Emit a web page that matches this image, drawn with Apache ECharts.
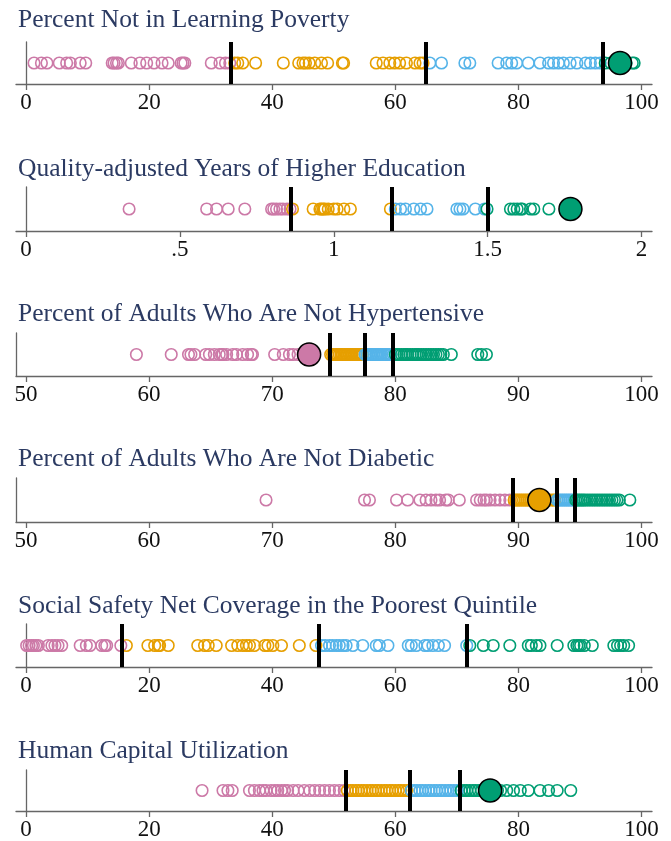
<!DOCTYPE html>
<html>
<head>
<meta charset="utf-8">
<script src="https://cdn.jsdelivr.net/npm/echarts@6/dist/echarts.min.js"></script>
<style>
html,body{margin:0;padding:0;background:#fff;}
#chart{width:671px;height:841px;}
</style>
</head>
<body>
<div id="chart"></div>
<script>
// ---- Data ----
const titles = [
  "Percent Not in Learning Poverty",
  "Quality-adjusted Years of Higher Education",
  "Percent of Adults Who Are Not Hypertensive",
  "Percent of Adults Who Are Not Diabetic",
  "Social Safety Net Coverage in the Poorest Quintile",
  "Human Capital Utilization"
];

// Panel 1: Learning poverty
const lp_q1 = [1.3, 2.5, 3.4, 5.4, 6.6, 7.2, 8.8, 9.7, 14.0, 14.3, 14.7, 15.0, 17.1, 18.5, 19.6, 20.8, 22.1, 23.1, 25.2, 25.5, 25.8, 30.1, 31.5, 32.4, 33.1];
const lp_q2 = [33.9, 34.4, 35.2, 37.3, 41.8, 44.3, 45.0, 45.4, 46.0, 46.9, 48.0, 49.0, 51.4, 51.6, 56.9, 58.0, 59.1, 59.9, 60.7, 61.8, 63.2, 64.0, 64.5];
const lp_q3 = [65.6, 67.5, 71.3, 72.1, 76.7, 78.1, 78.9, 79.7, 81.6, 83.5, 84.9, 85.7, 86.5, 87.3, 88.4, 89.5, 90.9, 91.7, 92.5, 93.3];
const lp_q4 = [94.1, 95.0, 97.5, 98.5, 98.8];
const lp_cut = [33.2, 64.9, 93.75];
const lp_hi = 96.5;

// Panel 2: Higher education
const he_q1 = [0.335, 0.587, 0.619, 0.657, 0.711, 0.798, 0.805, 0.814, 0.825, 0.835, 0.848, 0.858];
const he_q2 = [0.866, 0.933, 0.955, 0.960, 0.966, 0.971, 0.982, 1.0, 1.011, 1.033, 1.054, 1.184];
const he_q3 = [1.20, 1.217, 1.233, 1.26, 1.282, 1.303, 1.40, 1.41, 1.42, 1.46, 1.49];
const he_q4 = [1.498, 1.574, 1.585, 1.596, 1.607, 1.612, 1.639, 1.65, 1.699];
const he_cut = [0.863, 1.193, 1.496];
const he_hi = 1.769;

// Panel 3: Hypertension
const ht_q1 = [58.97, 61.8, 63.2, 63.4, 63.7, 64.6, 64.9, 65.3, 65.7, 65.9, 66.0, 66.3, 66.8, 67.1, 67.6, 68.0, 68.3, 68.4, 70.2, 70.9, 71.4, 71.7, 72.1, 72.5];
const ht_q2 = [74.75, 74.9, 75.0, 75.2, 75.3, 75.45, 75.6, 75.7, 75.85, 76.0, 76.1, 76.25, 76.4, 76.5, 76.65, 76.8, 76.9, 77.05, 77.2, 77.35];
const ht_q3 = [77.55, 77.7, 77.85, 78.0, 78.1, 78.25, 78.4, 78.5, 78.65, 78.8, 78.9, 79.05, 79.2, 79.35, 79.5, 79.65];
const ht_q4 = [80.0, 80.15, 80.3, 80.5, 80.7, 80.85, 81.0, 81.2, 81.4, 81.6, 81.75, 81.9, 82.1, 82.3, 82.5, 82.7, 82.9, 83.1, 83.3, 83.5, 83.7, 83.9, 84.55, 86.7, 87.0, 87.4];
const ht_cut = [74.65, 77.5, 79.8];
const ht_hi = 73.0;

// Panel 4: Diabetes
const db_q1 = [69.5, 77.5, 77.9, 80.1, 81.0, 82.0, 82.5, 82.9, 83.3, 83.6, 84.1, 84.3, 85.2, 86.6, 86.9, 87.2, 87.4, 87.7, 88.1, 88.5, 88.9, 89.3];
const db_q2 = [89.65, 89.8, 89.95, 90.1, 90.25, 90.4, 90.55, 90.7, 90.85, 91.0, 91.2, 91.4, 91.6, 91.8, 92.0, 92.2, 92.4, 92.6, 92.8, 92.95];
const db_q3 = [93.15, 93.3, 93.45, 93.6, 93.75, 93.9, 94.05, 94.2, 94.35, 94.5];
const db_q4 = [94.65, 94.8, 94.95, 95.1, 95.25, 95.4, 95.6, 95.8, 96.0, 96.2, 96.4, 96.6, 96.8, 97.0, 97.2, 97.4, 97.6, 97.8, 98.0, 98.2, 99.05];
const db_cut = [89.57, 93.1, 94.58];
const db_hi = 91.7;

// Panel 5: Social safety net
const sn_q1 = [0.1, 0.5, 0.9, 1.2, 1.6, 2.0, 3.6, 4.2, 4.7, 5.2, 5.8, 8.8, 9.8, 10.4, 12.3, 12.8, 13.1, 15.4];
const sn_q2 = [16.3, 19.8, 20.9, 21.5, 21.7, 23.1, 27.9, 29.0, 29.6, 30.9, 33.4, 34.4, 35.2, 35.8, 36.3, 37.1, 38.8, 39.3, 40.1, 41.5, 44.4, 47.1];
const sn_q3 = [48.0, 48.6, 49.3, 49.8, 50.4, 50.9, 51.5, 52.0, 53.1, 54.7, 56.9, 57.4, 58.8, 62.1, 62.6, 63.4, 64.8, 65.3, 66.1, 67.0, 68.0, 71.6];
const sn_q4 = [72.1, 74.3, 75.9, 78.6, 81.6, 82.1, 82.9, 83.5, 86.3, 89.0, 89.5, 89.8, 90.1, 90.7, 92.0, 95.5, 96.1, 96.6, 97.1, 97.9];
const sn_cut = [15.5, 47.6, 71.6];
const sn_hi = null;

// Panel 6: Human capital utilization
const hc_q1 = [28.6, 32.0, 32.8, 33.5, 36.3, 37.1, 37.9, 38.5, 39.0, 39.8, 40.4, 40.9, 41.5, 42.0, 42.5, 43.4, 44.2, 45.2, 46.1, 46.9, 47.7, 48.5, 49.3, 50.1, 50.9, 51.7];
const hc_q2 = [52.2, 52.7, 53.1, 53.6, 54.0, 54.5, 54.9, 55.4, 55.9, 56.3, 56.8, 57.2, 57.7, 58.2, 58.6, 59.1, 59.5, 60.0, 60.5, 60.9, 61.4, 61.9];
const hc_q3 = [62.6, 63.1, 63.5, 64.0, 64.4, 64.9, 65.4, 65.8, 66.3, 66.7, 67.2, 67.6, 68.1, 68.6, 69.0, 69.5, 70.0, 70.3];
const hc_q4 = [70.7, 71.2, 71.6, 72.1, 72.6, 73.0, 73.5, 74.0, 76.6, 77.1, 78.1, 79.2, 80.3, 81.6, 83.5, 84.9, 86.3, 88.5];
const hc_cut = [52.0, 62.4, 70.5];
const hc_hi = 75.4;

// Tick values
const ticks_0_100 = [0, 20, 40, 60, 80, 100];
const ticks_0_2 = [0, 0.5, 1, 1.5, 2];
const ticks_50_100 = [50, 60, 70, 80, 90, 100];
const labels_0_2 = ["0", ".5", "1", "1.5", "2"];

// ---- Layout / style ----
const colors = ['#cc79a7', '#e69f00', '#56b4e9', '#009e73'];
const panels = [
  {q:[lp_q1,lp_q2,lp_q3,lp_q4], cut:lp_cut, hi:lp_hi, hiQ:3, ticks:ticks_0_100, min:-1.63, max:101.7, top:42, h:42, tTop:7},
  {q:[he_q1,he_q2,he_q3,he_q4], cut:he_cut, hi:he_hi, hiQ:3, ticks:ticks_0_2, labels:labels_0_2, min:-0.0325, max:2.034, top:187, h:44, tTop:156},
  {q:[ht_q1,ht_q2,ht_q3,ht_q4], cut:ht_cut, hi:ht_hi, hiQ:0, ticks:ticks_50_100, min:49.19, max:100.85, top:333, h:43, tTop:301},
  {q:[db_q1,db_q2,db_q3,db_q4], cut:db_cut, hi:db_hi, hiQ:1, ticks:ticks_50_100, min:49.19, max:100.85, top:478, h:44, tTop:446},
  {q:[sn_q1,sn_q2,sn_q3,sn_q4], cut:sn_cut, hi:sn_hi, hiQ:0, ticks:ticks_0_100, min:-1.63, max:101.7, top:624, h:43, tTop:593},
  {q:[hc_q1,hc_q2,hc_q3,hc_q4], cut:hc_cut, hi:hc_hi, hiQ:3, ticks:ticks_0_100, min:-1.63, max:101.7, top:770, h:43, tTop:738}
];

const serif = "'Liberation Serif', 'DejaVu Serif', serif";
const option = {
  animation: false,
  backgroundColor: '#fff',
  title: [], grid: [], xAxis: [], yAxis: [], series: []
};

panels.forEach((p, i) => {
  option.title.push({
    text: titles[i], left: 18, top: p.tTop, padding: 0,
    textStyle: {fontFamily: serif, fontSize: 25.5, fontWeight: 'normal', color: '#2b3a62'}
  });
  option.grid.push({left: 16, right: 19, top: p.top, height: p.h});
  const labs = p.labels;
  option.xAxis.push({
    type: 'value', gridIndex: i, min: p.min, max: p.max,
    splitLine: {show: false},
    axisLine: {show: true, onZero: false, lineStyle: {color: '#666', width: 1.3}},
    axisTick: {show: true, length: 6, customValues: p.ticks, lineStyle: {color: '#666', width: 1.3}},
    axisLabel: {
      customValues: p.ticks, margin: 7, fontFamily: serif, fontSize: 23, color: '#111',
      formatter: v => {
        if (labs) { const k = p.ticks.indexOf(v); return k >= 0 ? labs[k] : ''; }
        return String(v);
      }
    }
  });
  option.yAxis.push({
    type: 'value', gridIndex: i, min: -1, max: 1,
    splitLine: {show: false},
    axisLine: {show: true, lineStyle: {color: '#666', width: 1.3}},
    axisTick: {show: false}, axisLabel: {show: false}
  });
  p.q.forEach((arr, k) => {
    option.series.push({
      type: 'scatter', xAxisIndex: i, yAxisIndex: i, z: 2,
      symbol: 'circle', symbolSize: 11.5,
      itemStyle: {color: 'rgba(255,255,255,0)', borderColor: colors[k], borderWidth: 1.6, opacity: 1},
      silent: true,
      data: arr.map(v => [v, 0])
    });
  });
  option.series.push({
    type: 'scatter', xAxisIndex: i, yAxisIndex: i, z: 3, data: [], silent: true,
    markLine: {
      symbol: 'none', silent: true, animation: false,
      label: {show: false},
      lineStyle: {color: '#000', width: 4, type: 'solid'},
      data: p.cut.map(v => ({xAxis: v}))
    }
  });
  if (p.hi !== null) {
    option.series.push({
      type: 'scatter', xAxisIndex: i, yAxisIndex: i, z: 4, silent: true,
      symbol: 'circle', symbolSize: 23,
      itemStyle: {color: colors[p.hiQ], borderColor: '#000', borderWidth: 1.5, opacity: 1},
      data: [[p.hi, 0]]
    });
  }
});

const chart = echarts.init(document.getElementById('chart'), null, {renderer: 'canvas'});
chart.setOption(option);
</script>
</body>
</html>
